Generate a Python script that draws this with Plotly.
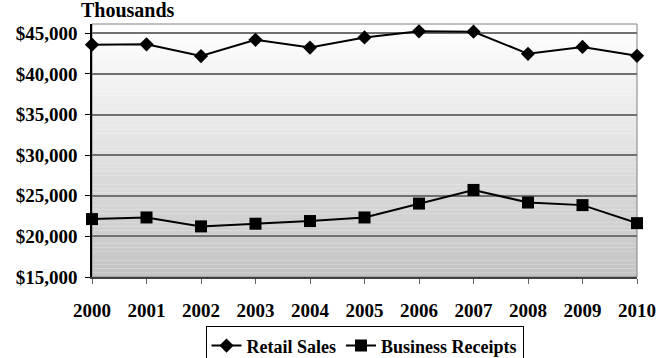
import plotly.graph_objects as go

years = ["2000", "2001", "2002", "2003", "2004", "2005", "2006", "2007", "2008", "2009", "2010"]
retail_sales = [43600, 43650, 42200, 44200, 43250, 44500, 45250, 45200, 42480, 43330, 42230]
business_receipts = [22130, 22330, 21230, 21560, 21890, 22330, 24040, 25720, 24170, 23850, 21630]
y_ticks = [15000, 20000, 25000, 30000, 35000, 40000, 45000]
y_tick_labels = ["$15,000", "$20,000", "$25,000", "$30,000", "$35,000", "$40,000", "$45,000"]

FONT = "Liberation Serif"

fig = go.Figure()
fig.add_trace(go.Scatter(
    x=list(range(len(years))), y=retail_sales, name="Retail Sales",
    mode="lines+markers",
    line=dict(color="black", width=2),
    marker=dict(symbol="diamond", size=11, color="black"),
    cliponaxis=False,
))
fig.add_trace(go.Scatter(
    x=list(range(len(years))), y=business_receipts, name="Business Receipts",
    mode="lines+markers",
    line=dict(color="black", width=2),
    marker=dict(symbol="square", size=12, color="black"),
    cliponaxis=False,
))

# vertical gradient background (white at top -> gray at bottom)
n = 60
shapes = []
for i in range(n):
    t = i / (n - 1)
    v = int(round(255 - t * (255 - 196)))
    shapes.append(dict(
        type="rect", xref="x domain", yref="y domain",
        x0=0, x1=1, y0=1 - (i + 1) / n, y1=1 - i / n,
        fillcolor=f"rgb({v},{v},{v})", line=dict(width=0), layer="below",
    ))
# plot border (top/right gray)
shapes.append(dict(type="rect", xref="x domain", yref="y domain", x0=0, x1=1, y0=0, y1=1,
                   line=dict(color="#808080", width=1), fillcolor="rgba(0,0,0,0)", layer="below"))

fig.update_layout(
    width=669, height=358,
    margin=dict(l=91.5, r=32, t=23.5, b=81, autoexpand=False),
    paper_bgcolor="white", plot_bgcolor="rgba(0,0,0,0)",
    font=dict(family=FONT, color="black"),
    shapes=shapes,
    showlegend=True,
    legend=dict(
        orientation="h", x=0.5, xanchor="center", y=-0.195, yanchor="top",
        bordercolor="black", borderwidth=1, bgcolor="white",
        font=dict(family=FONT, size=18, color="black", weight="bold"),
        itemwidth=30, tracegroupgap=0,
    ),
    annotations=[dict(
        text="<b>Thousands</b>", xref="paper", yref="paper",
        x=-0.023, y=1.005, xanchor="left", yanchor="bottom", showarrow=False,
        font=dict(family=FONT, size=20, color="black"),
    )],
)
fig.update_xaxes(
    range=[0, len(years) - 1],
    tickmode="array", tickvals=list(range(len(years))), ticktext=years,
    showgrid=False, zeroline=False,
    showline=True, linecolor="#404040", linewidth=1.5,
    ticks="outside", ticklen=5, tickcolor="#606060",
    ticklabelstandoff=10,
    tickfont=dict(family=FONT, size=19, color="black", weight="bold"),
)
fig.update_yaxes(
    range=[15000, 46150],
    tickmode="array", tickvals=y_ticks, ticktext=y_tick_labels,
    showgrid=True, gridcolor="#707070", gridwidth=1.5, zeroline=False,
    showline=True, linecolor="black", linewidth=1.5,
    ticks="outside", ticklen=5, tickcolor="black",
    ticklabelstandoff=4,
    tickfont=dict(family=FONT, size=19, color="black", weight="bold"),
)

fig.write_html("out.html", config={"displayModeBar": False},
               post_script="document.body.style.margin='0';")
